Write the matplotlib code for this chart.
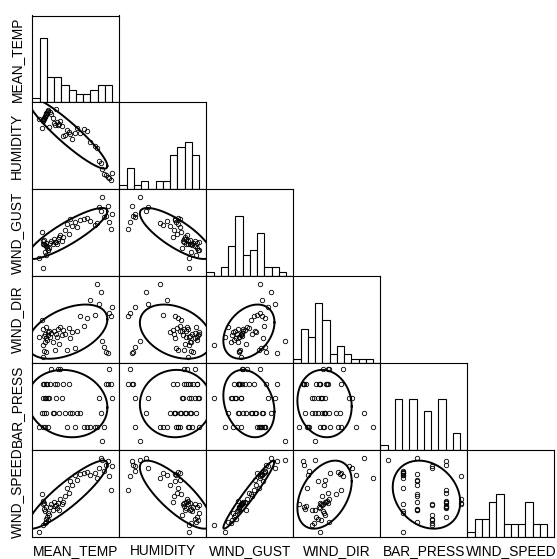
import numpy as np
import matplotlib.pyplot as plt

plt.rcParams['font.family'] = ['Liberation Sans', 'DejaVu Sans']

names = ["MEAN_TEMP", "HUMIDITY", "WIND_GUST", "WIND_DIR", "BAR_PRESS", "WIND_SPEED"]

mean_temp = [23.0, 25.3, 25.5, 25.8, 26.0, 26.3, 26.5, 26.8, 27.0, 27.5,
             27.8, 28.0, 28.5, 29.0, 29.5, 29.8, 30.5, 31.5, 32.3, 33.0,
             33.8, 34.5, 35.3, 36.0, 36.8, 37.5, 38.5, 39.5, 41.0, 42.3,
             43.5, 44.5, 46.0, 47.5, 49.0, 51.5, 54.0, 56.0, 58.0, 61.5,
             63.0, 64.5, 65.5, 66.5, 68.0, 69.0, 70.5, 71.5, 72.3, 73.0]
humidity = [86.5, 80.8, 85.5, 86.0, 86.5, 87.0, 87.5, 88.0, 88.8, 89.5,
            90.5, 91.0, 91.8, 92.5, 93.0, 81.5, 92.0, 90.3, 87.3, 84.3,
            83.0, 93.5, 84.5, 82.8, 83.5, 85.2, 82.0, 75.3, 76.0, 79.0,
            77.8, 76.5, 73.0, 77.3, 80.5, 77.0, 80.2, 78.5, 71.0, 68.5,
            66.5, 58.0, 56.5, 52.5, 49.0, 48.0, 47.0, 46.0, 44.5, 49.5]
wind_gust = [15.5, 24.5, 20.2, 21.1, 12.0, 21.5, 20.3, 17.6, 19.8, 20.6,
             19.5, 16.5, 18.8, 18.0, 18.3, 19.0, 20.5, 21.4, 20.1, 22.0,
             20.8, 21.0, 20.4, 21.8, 22.8, 23.3, 21.3, 22.6, 25.1, 27.3,
             23.8, 28.8, 26.3, 28.0, 26.0, 28.5, 29.0, 29.3, 28.3, 26.8,
             27.6, 33.0, 31.5, 36.3, 29.5, 29.8, 33.5, 27.8, 25.5, 30.5]
wind_dir = [99, 168, 129, 15, 66, 102, 39, 75, 111, 33,
            93, 138, 84, 105, 117, 123, 96, 114, 78, 123,
            42, 108, 99, 132, 69, 138, 105, 126, 108, 45,
            135, 91, 117, 51, 121, 183, 141, 177, 249, 189,
            318, 234, 282, 81, 54, 33, 31, 195, 186, 222]
bar_press = [29.8, 29.9, 30.1, 29.8, 30.0, 30.1, 29.9, 30.0, 29.8, 30.1,
             30.0, 29.9, 30.1, 30.0, 29.8, 30.0, 30.1, 30.2, 29.9, 29.9,
             30.1, 30.0, 30.1, 30.2, 29.9, 30.2, 30.0, 30.1, 29.9, 29.8,
             30.1, 29.9, 29.9, 29.8, 29.9, 29.9, 29.8, 29.8, 29.8, 29.8,
             29.8, 30.0, 29.9, 29.7, 29.8, 30.1, 30.1, 30.2, 30.1, 30.0]
wind_speed = [0.6, 11.2, 9.2, 8.2, 2.4, 8.6, 7.0, 3.0, 6.4, 7.6,
              4.2, 3.4, 4.8, 3.8, 5.8, 5.2, 7.4, 8.4, 6.8, 8.8,
              7.8, 8.1, 7.2, 8.6, 6.6, 9.6, 8.2, 9.0, 10.4, 12.8,
              11.4, 14.6, 13.6, 16.2, 15.0, 16.6, 17.0, 17.2, 16.4, 16.8,
              15.6, 18.4, 21.0, 20.6, 17.4, 19.2, 20.2, 16.1, 12.2, 18.8]

data = [mean_temp, humidity, wind_gust, wind_dir, bar_press, wind_speed]

# histogram start and bin width, 12 bins per variable
hist_start = [20, 40, 10, 0, 29.66, 0]
hist_width = [5, 5, 2.5, 30, 0.05, 2]
nbins = 12
shift = 0.33   # scatter axes sit a third of a bin lower than the histogram
r = 1.72       # ellipse size in std units

fig = plt.figure(figsize=(5.57, 5.59), dpi=100)
gs = fig.add_gridspec(6, 6, left=32.3/557, right=554.3/557,
                      bottom=22.5/559, top=543.5/559, wspace=0, hspace=0)

t = np.linspace(0, 2*np.pi, 200)
for i in range(6):
    for j in range(i+1):
        ax = fig.add_subplot(gs[i, j])
        ax.set_xticks([])
        ax.set_yticks([])
        for s in ax.spines.values():
            s.set_linewidth(0.8)
        if i == j:
            edges = hist_start[i] + hist_width[i]*np.arange(nbins+1)
            ax.hist(data[i], bins=edges, color='white', edgecolor='black', linewidth=0.8)
            ax.set_xlim(edges[0], edges[-1])
            ax.set_ylim(0, 20.4)
        else:
            x = np.array(data[j], dtype=float)
            y = np.array(data[i], dtype=float)
            ax.plot(x, y, 'o', mfc='none', mec='black', ms=3.2, mew=0.6)
            c = np.cov(x, y)
            L = np.linalg.cholesky(c)
            e = L @ np.vstack([np.cos(t), np.sin(t)]) * r
            ax.plot(x.mean() + e[0], y.mean() + e[1], color='black', lw=1.4)
            x0 = hist_start[j] - shift*hist_width[j]
            y0 = hist_start[i] - shift*hist_width[i]
            ax.set_xlim(x0, x0 + nbins*hist_width[j])
            ax.set_ylim(y0, y0 + nbins*hist_width[i])

# variable names on the left and at the bottom
for k in range(6):
    cx = (32.3 + 87*(k+0.5))/557
    cy = 1 - (15.5 + 86.8*(k+0.5))/559
    fig.text(cx, 0.0073, names[k], ha='center', va='baseline', fontsize=9.9)
    fig.text(17.0/557, cy, names[k], ha='center', va='center', rotation=90, fontsize=9.9)

fig.savefig('out.png', dpi=100)
